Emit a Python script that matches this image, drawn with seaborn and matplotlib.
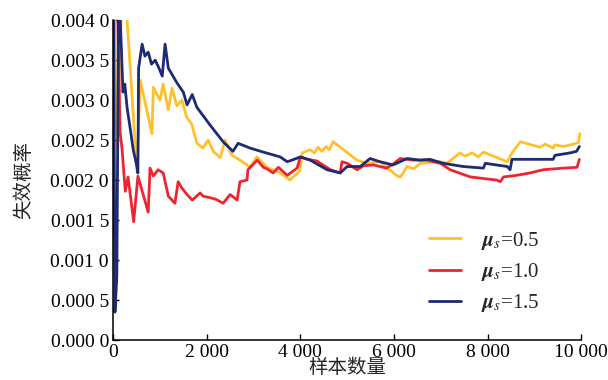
import matplotlib
matplotlib.use("Agg")
import matplotlib.pyplot as plt
import pandas as pd
import seaborn as sns

series_names = [r"$\boldsymbol{\mu}_s$=0.5", r"$\boldsymbol{\mu}_s$=1.0",
                r"$\boldsymbol{\mu}_s$=1.5"]
series_colors = ["#FFC12B", "#EC2630", "#1E2A72"]

x_05 = [0, 20, 60, 100, 130, 200, 300, 510, 580, 830, 860, 1000, 1070, 1180,
        1260, 1360, 1470, 1570, 1680, 1790, 1920, 2030, 2140, 2290, 2390, 2540,
        2710, 2930, 3070, 3290, 3570, 3780, 3990, 4040, 4210, 4300, 4380, 4460,
        4550, 4620, 4700, 5210, 5430, 5700, 6070, 6140, 6280, 6420, 6560, 6990,
        7130, 7410, 7520, 7670, 7800, 7910, 8420, 8520, 8700, 9120, 9230, 9400,
        9440, 9620, 9830, 9940, 9970]
y_05 = [0.0045, 0.0045, 0.0028, 0.0024, 0.0033, 0.0045, 0.0040, 0.0021,
        0.00325, 0.00258, 0.00316, 0.0030, 0.0032, 0.00288, 0.00315, 0.00293,
        0.00300, 0.00279, 0.00270, 0.00246, 0.00240, 0.00250, 0.00236, 0.00228,
        0.00250, 0.00231, 0.00225, 0.00216, 0.00229, 0.00216, 0.00209, 0.00200,
        0.00212, 0.00234, 0.00238, 0.00234, 0.00241, 0.00236, 0.00242, 0.00238,
        0.00248, 0.00225, 0.00221, 0.00223, 0.00205, 0.00204, 0.00217, 0.00214,
        0.00221, 0.00223, 0.00221, 0.00234, 0.00230, 0.00234, 0.00229, 0.00235,
        0.00223, 0.00234, 0.00248, 0.00241, 0.00245, 0.00240, 0.00244, 0.00242,
        0.00245, 0.00247, 0.00258]

x_10 = [0, 10, 30, 100, 150, 190, 260, 320, 440, 530, 750, 790, 860, 960,
        1070, 1180, 1320, 1390, 1470, 1580, 1690, 1860, 1920, 2070, 2200, 2350,
        2500, 2650, 2710, 2860, 2880, 3080, 3210, 3290, 3420, 3530, 3720, 3930,
        4000, 4150, 4350, 4640, 4850, 4890, 5000, 5210, 5350, 5560, 5840, 5980,
        6130, 6420, 6700, 6990, 7200, 7630, 7910, 8200, 8270, 8340, 8620, 8910,
        9190, 9620, 9910, 9960]
y_10 = [0.0013, 0.0045, 0.0045, 0.0040, 0.0026, 0.0024, 0.00186, 0.00204,
        0.00148, 0.00205, 0.00160, 0.00215, 0.00205, 0.00213, 0.00209, 0.00180,
        0.00171, 0.00198, 0.00190, 0.00182, 0.00175, 0.00184, 0.00180, 0.00178,
        0.00176, 0.00171, 0.00182, 0.00175, 0.00198, 0.00200, 0.00213, 0.00225,
        0.00216, 0.00214, 0.00209, 0.00216, 0.00206, 0.00215, 0.00229, 0.00226,
        0.00224, 0.00213, 0.00209, 0.00223, 0.00221, 0.00213, 0.00218, 0.00219,
        0.00215, 0.00220, 0.00227, 0.00225, 0.00225, 0.00221, 0.00213, 0.00204,
        0.00202, 0.00200, 0.00198, 0.00204, 0.00206, 0.00209, 0.00213, 0.00215,
        0.00216, 0.00226]

x_15 = [0, 10, 40, 80, 120, 180, 210, 250, 300, 360, 430, 510, 530, 545, 620,
        680, 750, 820, 900, 980, 1050, 1110, 1180, 1280, 1360, 1500, 1580, 1690,
        1790, 2070, 2350, 2560, 2670, 2930, 3210, 3570, 3720, 3820, 4000, 4210,
        4570, 4850, 5000, 5280, 5490, 5700, 5980, 6280, 6560, 6770, 7050, 7480,
        7910, 7950, 8420, 8480, 8520, 8910, 9400, 9440, 9760, 9900, 9960]
y_15 = [0.0013, 0.0045, 0.00035, 0.0008, 0.0045, 0.0036, 0.0031, 0.0032,
        0.0029, 0.00267, 0.00238, 0.00217, 0.00209, 0.0034, 0.0037, 0.00355,
        0.0036, 0.00345, 0.0035, 0.0034, 0.0033, 0.0037, 0.0034, 0.0033,
        0.00322, 0.0031, 0.00294, 0.00307, 0.00291, 0.00269, 0.00248, 0.00236,
        0.00246, 0.0024, 0.00235, 0.00229, 0.00223, 0.00225, 0.00229, 0.00225,
        0.00213, 0.00209, 0.00217, 0.00217, 0.00227, 0.00223, 0.00219, 0.00227,
        0.00225, 0.00226, 0.00221, 0.00217, 0.00215, 0.00221, 0.00217, 0.00213,
        0.00226, 0.00226, 0.00226, 0.00231, 0.00234, 0.00236, 0.00242]

x_ticks = [0, 2000, 4000, 6000, 8000, 10000]
x_tick_labels = ["0", "2 000", "4 000", "6 000", "8 000", "10 000"]
y_ticks = [0.0, 0.0005, 0.001, 0.0015, 0.002, 0.0025, 0.003, 0.0035, 0.004]
y_tick_labels = ["0.000 0", "0.000 5", "0.001 0", "0.001 5", "0.002 0",
                 "0.002 5", "0.003 0", "0.003 5", "0.004 0"]

frames = []
for name, xs, ys in zip(series_names, [x_05, x_10, x_15], [y_05, y_10, y_15]):
    frames.append(pd.DataFrame({"n": xs, "p": ys, "series": name}))
df = pd.concat(frames, ignore_index=True)

sns.set_style("ticks")
plt.rcParams["font.family"] = ["Liberation Serif", "Noto Sans CJK SC"]
plt.rcParams["mathtext.fontset"] = "stix"

fig = plt.figure(figsize=(6.08, 3.8), dpi=100)
ax = fig.add_axes([0.186, 0.105, 0.77, 0.842])

sns.lineplot(
    data=df,
    x="n",
    y="p",
    hue="series",
    hue_order=series_names,
    palette=series_colors,
    estimator=None,
    sort=False,
    linewidth=2.0,
    ax=ax
)

ax.set_xlim(0, 10000)
ax.set_ylim(0, 0.004)
ax.set_xticks(x_ticks)
ax.set_xticklabels(x_tick_labels)
ax.set_yticks(y_ticks)
ax.set_yticklabels(y_tick_labels)
ax.tick_params(direction="in", length=4, width=1, labelsize=14, pad=3,
               colors="black")

for side in ["top", "right"]:
    ax.spines[side].set_visible(False)
for side in ["left", "bottom"]:
    ax.spines[side].set_linewidth(1.1)
    ax.spines[side].set_color("black")

ax.set_xlabel("样本数量", fontsize=14, family=["Noto Sans CJK SC"], labelpad=-3)
ax.set_ylabel("失效概率", fontsize=14, family=["Noto Sans CJK SC"], labelpad=12)

handles, labels = ax.get_legend_handles_labels()
ax.legend(
    handles,
    labels,
    frameon=False,
    loc="upper left",
    bbox_to_anchor=(0.674, 0.345),
    fontsize=15,
    handlelength=1.56,
    handletextpad=0.95,
    labelspacing=0.45,
    borderpad=0,
    borderaxespad=0
)

plt.savefig("out.png", dpi=100)
plt.close()
